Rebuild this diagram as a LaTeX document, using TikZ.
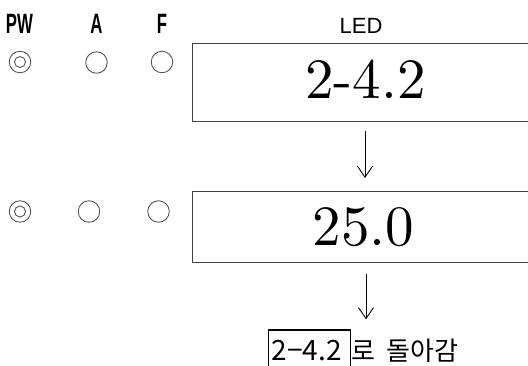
\documentclass[tikz,border=0pt]{standalone}
\usepackage{fontspec}
\newfontfamily\cjk{Noto Sans CJK KR}
\newfontfamily\lib{Liberation Sans}
\newfontfamily\lmten[Extension=.otf]{lmroman10-regular}
\usetikzlibrary{arrows.meta}
\begin{document}
\begin{tikzpicture}[x=1pt,y=-1pt,
  lamp/.style={draw=black!70, line width=0.85pt, circle, minimum size=21.5pt, inner sep=0pt},
  lampin/.style={draw=black!70, line width=0.85pt, circle, minimum size=11pt, inner sep=0pt},
  hdr/.style={font=\lib\bfseries\fontsize{28}{30}\selectfont, xscale=0.6, anchor=base, inner sep=0pt},
  ledbox/.style={draw=black!75, line width=1pt, inner sep=0pt, anchor=north west, minimum width=360pt},
  big/.style={font=\lmten\fontsize{57}{60}\selectfont, anchor=base, inner sep=0pt},
  arr/.style={line width=0.9pt, -{Straight Barb[length=11pt,width=15pt,line width=0.9pt]}}
]
\useasboundingbox (0,0) rectangle (528,365);
\clip (0,0) rectangle (528,365);
\fill[white] (0,0) rectangle (528,365);
% headers
\node[hdr] (hpw) at (19.5,33) {PW};
\node[hdr] (ha) at (96.5,33) {A};
\node[hdr] (hf) at (162,33) {F};
\node[font=\lib\fontsize{22}{24}\selectfont, anchor=base, inner sep=0pt] (led) at (361,33) {LED};
% lamps row 1
\node[lamp] (p1) at (20,62) {};
\node[lampin] (p1i) at (20,62) {};
\node[lamp] (a1) at (96.5,62.5) {};
\node[lamp] (f1) at (162,62) {};
% lamps row 2
\node[lamp] (p2) at (20,211.5) {};
\node[lampin] (p2i) at (20,211.5) {};
\node[lamp] (a2) at (89,211.5) {};
\node[lamp] (f2) at (158.5,211.5) {};
% display boxes
\node[ledbox, minimum height=78pt] (b1) at (192,43) {};
\node[ledbox, minimum height=71pt] (b2) at (192,191) {};
\node[big] (t1) at (365.5,98) {2-4.2};
\node[big] (t2) at (363.5,245) {25.0};
% bottom text
\node[draw, line width=1.2pt, inner xsep=0pt, inner ysep=0pt, text height=30pt, text depth=10pt, anchor=base west, font=\cjk\fontsize{28}{30}\selectfont] (r) at (268,360) {\kern3pt 2−4.2\kern9pt};
\node[anchor=base west, inner sep=0pt, font=\cjk\fontsize{26}{28}\selectfont] (k) at ([xshift=0pt]r.base east) {로\hspace{11pt}돌아감};
% arrows
\coordinate (ax1) at (365,0);
\coordinate (ax2) at (366,0);
\draw[arr, shorten <=9pt, shorten >=13pt] (ax1 |- b1.south) -- (ax1 |- b2.north);
\draw[arr, shorten <=11pt, shorten >=10pt] (ax2 |- b2.south) -- (ax2 |- r.north);
\end{tikzpicture}
\end{document}
